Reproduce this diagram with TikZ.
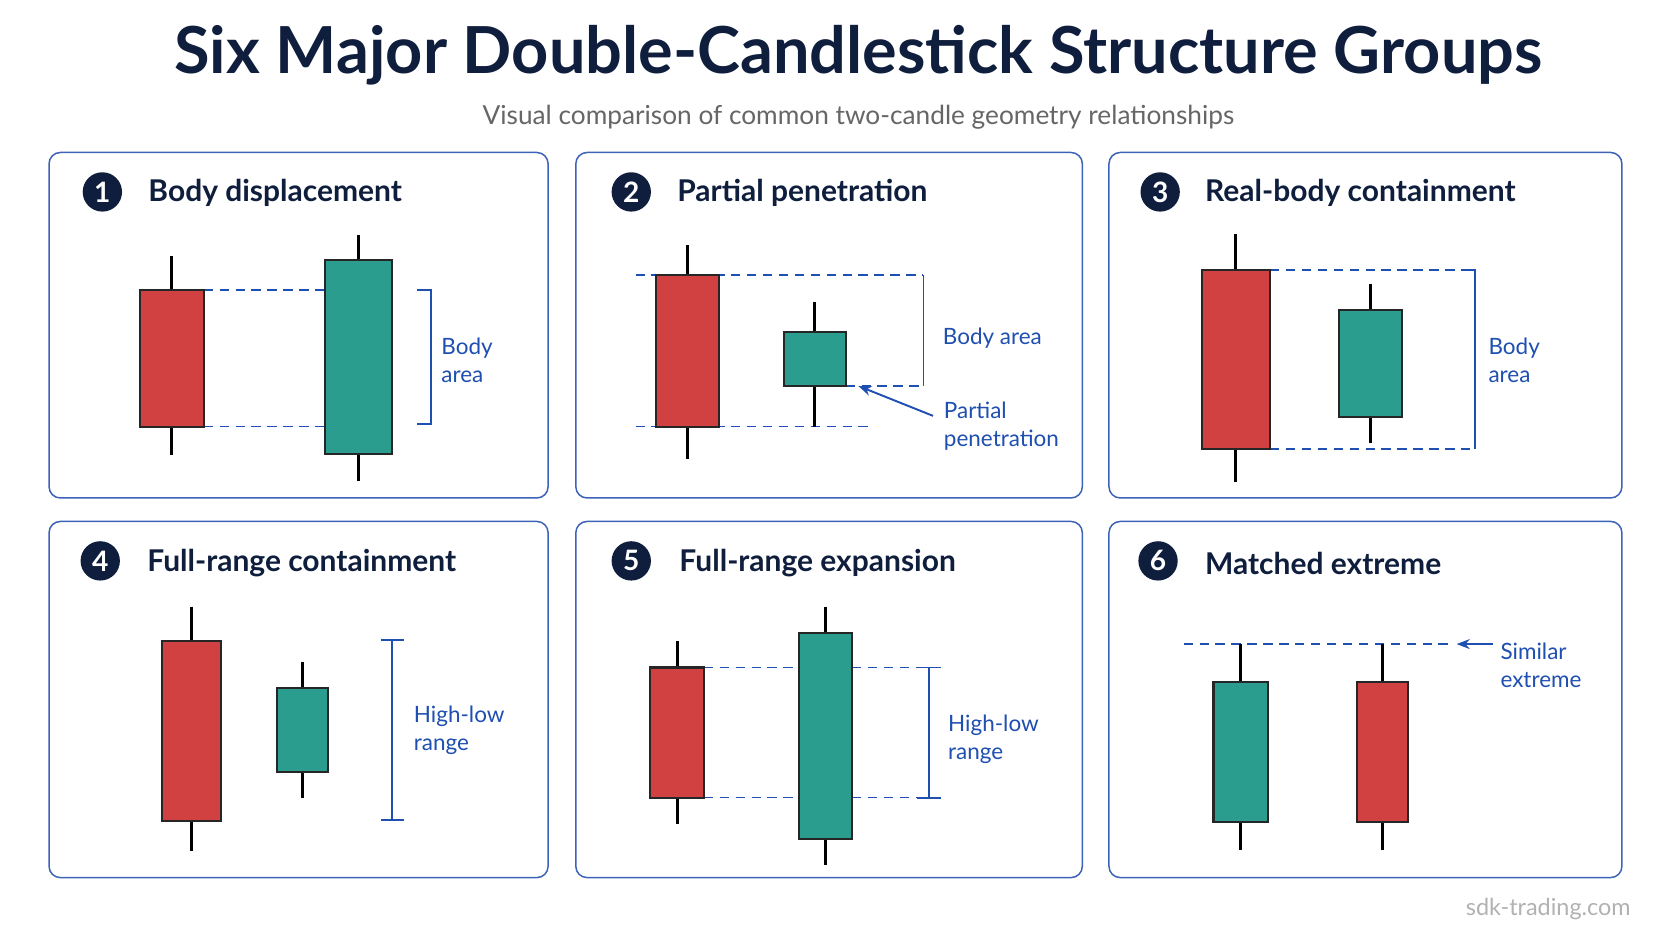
\documentclass[tikz,border=0pt]{standalone}
\usepackage{fontspec}
\setmainfont{Lato}
\usetikzlibrary{arrows.meta}
\definecolor{cred}{HTML}{D24141}
\definecolor{cteal}{HTML}{2A9D8F}
\definecolor{navy}{HTML}{0F1E3D}
\definecolor{lblue}{HTML}{1F4FB0}
\definecolor{pborder}{HTML}{3D63B8}
\newcommand\candlestick[7]{% color cx halfw btop bbot wtop wbot
  \draw[line width=1.6pt,black] (#2,#6) -- (#2,#7);
  \draw[fill=#1,draw=black!85,line width=1.1pt] (#2-#3,#4) rectangle (#2+#3,#5);}
\tikzset{
  panel/.style={draw=pborder,line width=0.8pt,rounded corners=6pt},
  numc/.style={circle,fill=navy,text=white,font=\bfseries\fontsize{15}{15}\selectfont,minimum size=21pt,inner sep=0pt},
  ptitle/.style={anchor=west,text=navy,font=\bfseries\fontsize{16}{18}\selectfont},
  lbl/.style={text=lblue,font=\fontsize{12}{15}\selectfont,align=left},
  dsh/.style={dashed,dash pattern=on 5pt off 3.5pt,lblue,line width=0.8pt},
  brk/.style={lblue,line width=1pt},
}
\begin{document}
\begin{tikzpicture}[x=0.02cm,y=-0.02cm]
\useasboundingbox[fill=white] (0,0) rectangle (1568,882.6);
\node[text=navy,font=\bfseries\fontsize{34.6}{38}\selectfont] (title) at (805,52) {Six Major Double-Candlestick Structure Groups};
\node[text=black!60,font=\fontsize{14}{16}\selectfont] (sub) at (805,110) {Visual comparison of common two-candle geometry relationships};
\node[text=black!30,font=\fontsize{12.5}{14}\selectfont] (foot) at (1452,852) {sdk-trading.com};
% panels
\draw[panel] (46,143) rectangle (514,467);
\draw[panel] (540,143) rectangle (1015,467);
\draw[panel] (1040,143) rectangle (1521,467);
\draw[panel] (46,489) rectangle (514,823);
\draw[panel] (540,489) rectangle (1015,823);
\draw[panel] (1040,489) rectangle (1521,823);
\node[numc] (n1) at (96,180) {1}; \node[ptitle] (t1) at (133,181) {Body displacement};
\node[numc] (n2) at (592,180) {2}; \node[ptitle] (t2) at (629,181) {Partial penetration};
\node[numc] (n3) at (1088,180) {3}; \node[ptitle] (t3) at (1124,181) {Real-body containment};
\node[numc] (n4) at (94,526) {4}; \node[ptitle] (t4) at (132,528) {Full-range containment};
\node[numc] (n5) at (592,526) {5}; \node[ptitle] (t5) at (631,528) {Full-range expansion};
\node[numc] (n6) at (1086,526) {6}; \node[ptitle] (t6) at (1124,528) {Matched extreme};
% panel 1
\draw[dsh] (191,272) -- (305,272); \draw[dsh] (191,400) -- (305,400);
\candlestick{cred}{161}{30}{272}{400}{240}{427}
\candlestick{cteal}{336}{31.5}{244}{426}{220}{451}
\draw[brk] (391,272) -- (404,272) -- (404,398) -- (391,398);
\node[lbl] (l1) at (438,338) {Body\\area};
% panel 2
\draw[dsh] (596,258) -- (866,258); \draw[dsh] (596,400) -- (815,400);
\draw[dsh] (793,362) -- (866,362);
\draw[brk] (866,258) -- (866,362);
\candlestick{cred}{644.5}{29.5}{258}{400}{230}{430}
\candlestick{cteal}{764}{29}{311}{362}{283}{400}
\node[lbl,anchor=west] (l2) at (878,317) {Body area};
\node[lbl,anchor=west] (l2b) at (879,400) {Partial\\penetration};
\draw[lblue,line width=1pt,-{Stealth[length=7pt]}] (875,390) -- (805,362);
% panel 3
\draw[dsh] (1191,253) -- (1383,253); \draw[dsh] (1191,421) -- (1383,421);
\draw[brk] (1370,253) -- (1383,253) -- (1383,421);
\candlestick{cred}{1159}{32}{253}{421}{219}{452}
\candlestick{cteal}{1285.5}{29.5}{291}{391}{266}{415}
\node[lbl] (l3) at (1420,338) {Body\\area};
% panel 4
\candlestick{cred}{179.5}{27.5}{601}{770}{569}{798}
\candlestick{cteal}{284}{24}{645}{724}{621}{748}
\draw[brk] (357,600) -- (379,600); \draw[brk] (357,769) -- (379,769); \draw[brk] (368,600) -- (368,769);
\node[lbl,anchor=west] (l4) at (382,685) {High-low\\range};
% panel 5
\draw[dsh] (660,626) -- (749,626); \draw[dsh] (660,748) -- (749,748);
\draw[dsh] (799,626) -- (880,626); \draw[dsh] (799,748) -- (880,748);
\draw[brk] (860,626) -- (882,626); \draw[brk] (860,748) -- (882,748); \draw[brk] (871,626) -- (871,748);
\candlestick{cred}{635}{25}{626}{748}{601}{773}
\candlestick{cteal}{774}{25}{594}{787}{569}{811}
\node[lbl,anchor=west] (l5) at (883,693) {High-low\\range};
% panel 6
\draw[dsh] (1110,604) -- (1360,604);
\candlestick{cteal}{1163.5}{25.5}{640}{771}{604}{797}
\candlestick{cred}{1296.5}{23.5}{640}{771}{604}{797}
\draw[lblue,line width=1pt,-{Stealth[length=7pt]}] (1400,604) -- (1366,604);
\node[lbl,anchor=west] (l6) at (1401,624) {Similar\\extreme};
\end{tikzpicture}
\end{document}
